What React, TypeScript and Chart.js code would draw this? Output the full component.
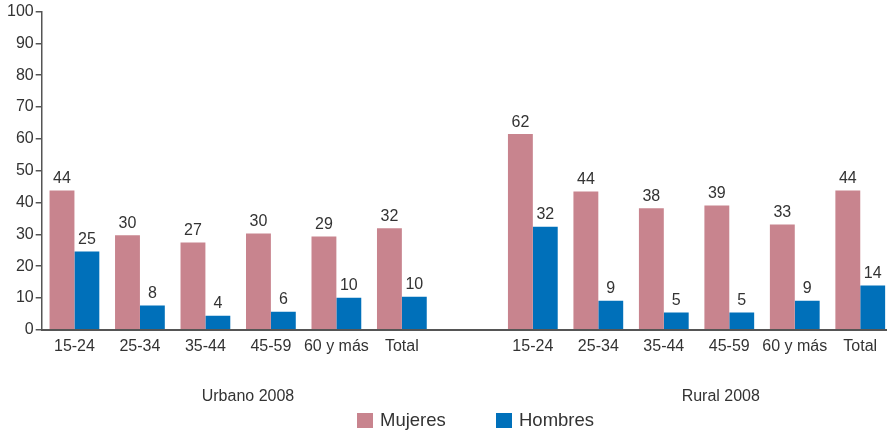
import React, { useEffect, useRef } from "react";
import { Chart, registerables } from "chart.js";

Chart.register(...registerables);

const categories = ["15-24", "25-34", "35-44", "45-59", "60 y más", "Total", "", "15-24", "25-34", "35-44", "45-59", "60 y más", "Total"];
const mujeres = [43.8, 29.7, 27.4, 30.3, 29.3, 31.9, null, 61.5, 43.5, 38.2, 39.1, 33.1, 43.8];
const hombres = [24.6, 7.6, 4.4, 5.7, 10.1, 10.4, null, 32.4, 9.1, 5.4, 5.4, 9.1, 13.9];
const seriesNames = ["Mujeres", "Hombres"];
const groupLabels = ["Urbano 2008", "Rural 2008"];
const groupPositions = [2.65, 9.87];
const yTicks = [0, 10, 20, 30, 40, 50, 60, 70, 80, 90, 100];

const COLORS = ["#C8848E", "#0070BA"];
const TEXT = "#333333";
const FONT = "'Liberation Sans', Arial, sans-serif";

const overlayPlugin = {
  id: "overlay",
  afterDatasetsDraw(chart: any) {
    const ctx = chart.ctx;
    ctx.save();
    ctx.fillStyle = TEXT;
    ctx.font = `16px ${FONT}`;
    ctx.textAlign = "center";
    ctx.textBaseline = "bottom";
    chart.data.datasets.forEach((ds: any, di: number) => {
      const meta = chart.getDatasetMeta(di);
      meta.data.forEach((bar: any, i: number) => {
        const v = ds.data[i];
        if (v === null || v === undefined) return;
        ctx.fillText(String(Math.round(v)), bar.x, bar.y - 4);
      });
    });
    // group labels
    const xs = chart.scales.x;
    ctx.textBaseline = "middle";
    groupLabels.forEach((g, i) => {
      ctx.fillText(g, xs.getPixelForValue(groupPositions[i]), 397);
    });
    // legend
    ctx.font = `18.5px ${FONT}`;
    ctx.textAlign = "left";
    const legendX = [357, 496];
    seriesNames.forEach((n, i) => {
      ctx.fillStyle = COLORS[i];
      ctx.fillRect(legendX[i], 413, 16, 15);
      ctx.fillStyle = TEXT;
      ctx.fillText(n, legendX[i] + 23, 421);
    });
    ctx.restore();
  },
};

export default function App() {
  const ref = useRef<HTMLCanvasElement>(null);
  useEffect(() => {
    if (!ref.current) return;
    Chart.defaults.font.family = FONT;
    const chart = new Chart(ref.current, {
      type: "bar",
      data: {
        labels: categories,
        datasets: [
          { label: seriesNames[0], data: mujeres, backgroundColor: COLORS[0], barPercentage: 1, categoryPercentage: 0.76 },
          { label: seriesNames[1], data: hombres, backgroundColor: COLORS[1], barPercentage: 1, categoryPercentage: 0.76 },
        ],
      },
      options: {
        animation: false,
        responsive: true,
        maintainAspectRatio: false,
        layout: { padding: { left: 5, right: 0, top: 4, bottom: 71 } },
        plugins: { legend: { display: false }, tooltip: { enabled: false } },
        scales: {
          x: {
            grid: { display: false, drawTicks: false },
            border: { display: true, color: "#555555", width: 2 },
            ticks: { color: TEXT, font: { size: 16, family: FONT }, padding: 7, autoSkip: false, maxRotation: 0 },
          },
          y: {
            min: 0,
            max: 100,
            afterBuildTicks: (axis: any) => {
              axis.ticks = yTicks.map((v) => ({ value: v }));
            },
            grid: { drawOnChartArea: false, drawTicks: true, tickLength: 6, color: "#555555", lineWidth: 1.5 },
            border: { display: true, color: "#555555", width: 1.5 },
            ticks: { color: TEXT, font: { size: 16, family: FONT }, padding: 2 },
          },
        },
      },
      plugins: [overlayPlugin],
    });
    return () => chart.destroy();
  }, []);
  return (
    <div style={{ position: "fixed", left: 0, top: 0, width: 887, height: 434, overflow: "hidden", background: "#fff" }}>
      <div style={{ position: "relative", width: 893, height: 434 }}>
        <canvas ref={ref} />
      </div>
    </div>
  );
}
